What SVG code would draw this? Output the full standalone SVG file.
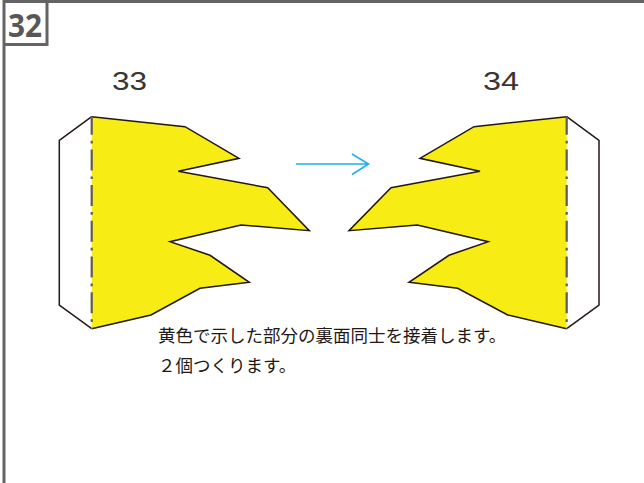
<svg xmlns="http://www.w3.org/2000/svg" width="644" height="483" viewBox="0 0 644 483">
<style>
.frame{fill:none;stroke:#646464;stroke-width:3}
.flap{fill:#fff;stroke:#231815;stroke-width:1.5;stroke-linejoin:miter}
.fill{fill:#f7ec13;stroke:none}
.edge{fill:none;stroke:#231815;stroke-width:1.5;stroke-linejoin:miter}
.fold{fill:none;stroke:#5f5a5a;stroke-width:2.2;stroke-dasharray:21 6 2.700 6;stroke-dashoffset:3.300}
.num{font-family:"Liberation Sans",sans-serif;font-size:25px;fill:#3a3533}
.cap{font-family:"Noto Sans CJK JP","Noto Sans",sans-serif;font-size:17.500px;fill:#231815}
.arrow{fill:none;stroke:#1fb0ea;stroke-width:1.6}
</style>
<rect width="644" height="483" fill="#fff"/>
<g id="frame">
<path class="frame" d="M4 483V1.5H644"/>
<path class="frame" d="M4 1.5H47V44.500H4"/>
<text x="8" y="36.500" font-family="'Open Sans','Noto Sans',sans-serif" font-weight="700" font-size="32" fill="#595757" textLength="34" lengthAdjust="spacingAndGlyphs">32</text>
</g>
<g id="part33">
<path class="flap" d="M91.700 116.700L59.300 140.300V305L91.700 328.700"/>
<path class="fill" d="M91.700 116.700L185 126.700L239 158.300L178.300 171.300L267.700 187.700L309.300 230.700L241 225L170 241.700L210 255.300L249.300 282.300L200 288.300L151 315L91.700 328.700Z"/>
<path class="edge" d="M91.700 116.700L185 126.700L239 158.300L178.300 171.300L267.700 187.700L309.300 230.700L241 225L170 241.700L210 255.300L249.300 282.300L200 288.300L151 315L91.700 328.700"/>
<path class="fold" d="M91.700 117V329"/>
<text class="num" x="112" y="90" textLength="35" lengthAdjust="spacingAndGlyphs">33</text>
</g>
<g id="part34">
<path class="flap" d="M566.700 116.700L599 140.300V305L566.700 328.700"/>
<path class="fill" d="M566.700 116.700L474 126.700L420 158.300L480 171.300L391 187.700L349 230.700L417.300 225L488.300 241.700L449 255.300L409 282.300L457.700 288.300L507.700 315L566.700 328.700Z"/>
<path class="edge" d="M566.700 116.700L474 126.700L420 158.300L480 171.300L391 187.700L349 230.700L417.300 225L488.300 241.700L449 255.300L409 282.300L457.700 288.300L507.700 315L566.700 328.700"/>
<path class="fold" d="M566.700 117V329"/>
<text class="num" x="483" y="90" textLength="36" lengthAdjust="spacingAndGlyphs">34</text>
</g>
<g id="connectors">
<path class="arrow" d="M296 164H368M352 154L368.500 164L352 174.500"/>
</g>
<g id="caption">
<text class="cap" x="158" y="342">黄色で示した部分の裏面同士を接着します。</text>
<text class="cap" x="158" y="371.500">２個つくります。</text>
</g>
</svg>
